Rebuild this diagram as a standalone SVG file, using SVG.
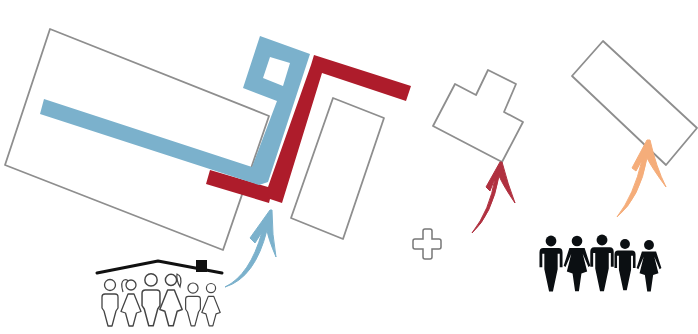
<svg xmlns="http://www.w3.org/2000/svg" width="698" height="334" viewBox="0 0 698 334">
<style>
.plan{fill:#fff;stroke:#8e8e8e;stroke-width:1.8;stroke-linejoin:round}
.line{fill:#fff;stroke:#444;stroke-width:1.3;stroke-linejoin:round}
.solid{fill:#0b0f12;stroke:none}
.bare{fill:none;stroke:#444;stroke-width:1.2}
.arrow{stroke-width:1;stroke-linejoin:round}
</style>
<defs>
<g id="man"><circle cx="0" cy="-1" r="5.5"/><path d="M-5,8H5Q8,8 8,11V22L6,25L2,40H-2L-6,25L-8,22V11Q-8,8 -5,8Z"/></g>
<g id="woman"><circle cx="0" cy="-1" r="5"/><path d="M-3,8H3L10,25.500L5.500,27L2,40H-2L-5.500,27L-10,25.500Z"/></g>
<g id="man-solid"><circle cx="0" cy="0" r="4.200"/><path d="M-6,5.500H6Q9,5.500 9,9V20.500H6.800V10H5.200V22L1.500,39.500H-1.500L-5.200,22V10H-6.800V20.500H-9V9Q-9,5.500 -6,5.500Z"/></g>
<g id="woman-solid"><circle cx="0" cy="0" r="4.200"/><path d="M-6,5.500H6L10.500,19.500L9,20.500L4.500,10L8,24L3.500,25.500L1.500,39.500H-1.500L-3.500,25.500L-8,24L-4.500,10L-9,20.500L-10.500,19.500Z"/></g>
</defs>
<rect width="698" height="334" fill="#fff"/>
<g id="main-building"><path class="plan" d="M50,29L269,116L223,250L5,165Z"/></g>
<g id="side-building"><path class="plan" d="M333,98L384,118L343,239L291,218Z"/></g>
<g id="stepped-building"><path class="plan" d="M488,70L516,84L504,112L523,122L502,162L433,126L455,84L476,95Z"/></g>
<g id="tilted-building"><path class="plan" d="M603,41L697,128L666,165L572,76Z"/></g>
<g id="plus"><path d="M425,229H430Q432,229 432,231V239H439Q441,239 441,241V247Q441,249 439,249H432V257Q432,259 430,259H425Q423,259 423,257V249H415Q413,249 413,247V241Q413,239 415,239H423V231Q423,229 425,229Z" fill="#fff" stroke="#777" stroke-width="1.500"/></g>
<g id="red-wall"><path fill="#ae1c2b" d="M314,55L411,86L406,101L322,73L282,203L270,199L269,203L206,184L210,170L268,187L311,65Z"/></g>
<g id="blue-wall"><path fill="#7bb1cc" fill-rule="evenodd" d="M260,36L310,54L268,182L259,185L40,114L44,99L252,167L277,101L243,88ZM270,57L290,63L283,86L263,78Z"/></g>
<g id="connectors">
<path class="arrow" fill="#7bb1cc" stroke="#7bb1cc" d="M272,210Q272,235 276,257Q268,238 267,230Q255,278 225,287Q250,275 262,232L255,243L250,238L270,210Z"/>
<path class="arrow" fill="#b0303f" stroke="#b0303f" d="M502,162Q508,185 515,203Q504,187 499,176Q492,215 472,233Q490,210 495,178L490,191L486,187L500,162Z"/>
<path class="arrow" fill="#f5ad7a" stroke="#f5ad7a" d="M650,140Q656,167 666,187Q652,168 647,158Q640,198 617,217Q634,195 642,160L636,171L632,168L647,140Z"/>
</g>
<g id="household">
<path d="M97,273L158,261L222,273" fill="none" stroke="#111" stroke-width="3" stroke-linecap="round" stroke-linejoin="round"/>
<rect x="196" y="260" width="11" height="12" fill="#111"/>
<use href="#man" class="line" transform="translate(110,286)"/>
<use href="#woman" class="line" transform="translate(131,286)"/>
<use href="#man" class="line" transform="translate(151,281) scale(1.12)"/>
<use href="#woman" class="line" transform="translate(171,281) scale(1.12)"/>
<use href="#man" class="line" transform="translate(193,289) scale(.92)"/>
<use href="#woman" class="line" transform="translate(211,289) scale(.92)"/>
<path class="bare" d="M123,292Q120,282 124,280Q127,279 128,281"/>
<path class="bare" d="M177,274Q183,276 180,287Q176,280 177,274Z"/>
</g>
<g id="users">
<use href="#man-solid" class="solid" transform="translate(551,241) scale(1.28)"/>
<use href="#woman-solid" class="solid" transform="translate(577,241) scale(1.27)"/>
<use href="#man-solid" class="solid" transform="translate(602,240) scale(1.3)"/>
<use href="#man-solid" class="solid" transform="translate(625,244) scale(1.17)"/>
<use href="#woman-solid" class="solid" transform="translate(649,245) scale(1.18)"/>
</g>
</svg>
